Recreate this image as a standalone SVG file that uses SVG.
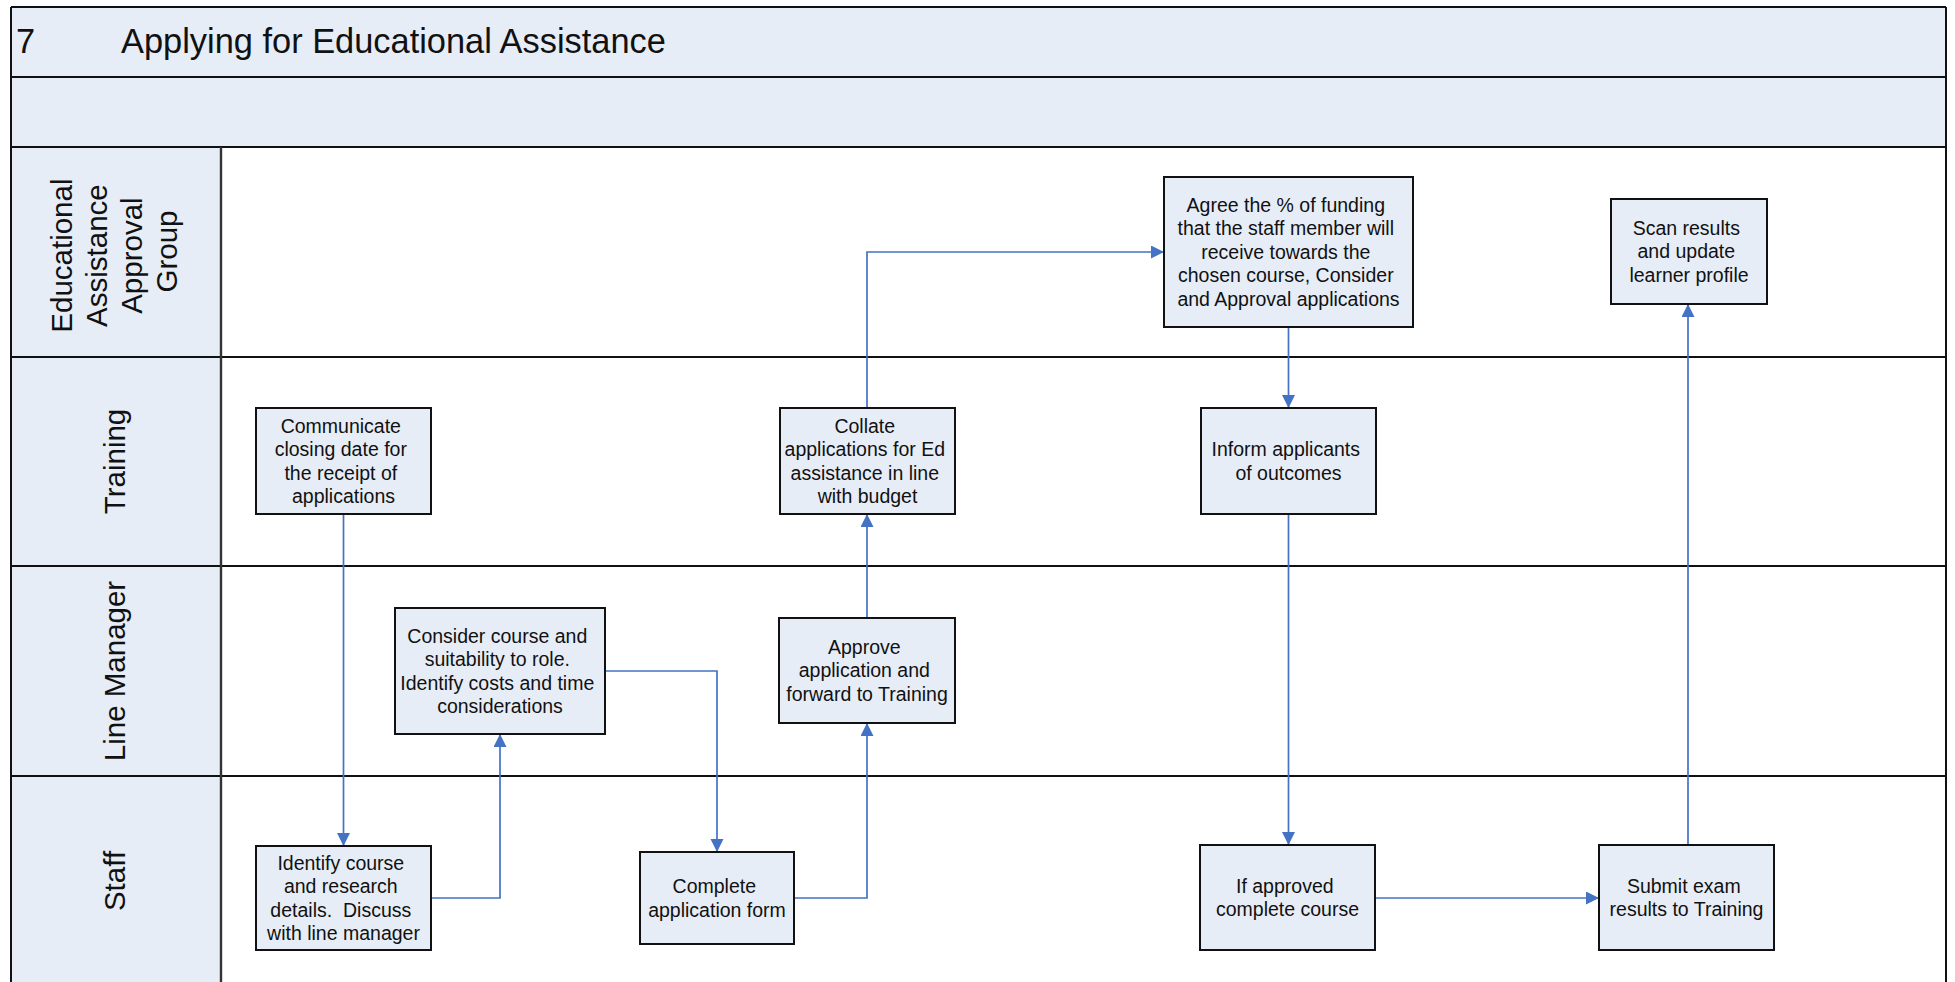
<svg xmlns="http://www.w3.org/2000/svg" width="1955" height="982" viewBox="0 0 1955 982">
  <style>
    .band { fill: #E7EDF7; stroke: none; }
    .rule { stroke: #111; stroke-width: 2; fill: none; }
    .box { fill: #E7EDF7; stroke: #111; stroke-width: 2; }
    .lbl { font-family: "Liberation Sans", Arial, sans-serif; font-size: 19.5px; fill: #111; text-anchor: middle; }
    .lane { font-family: "Liberation Sans", Arial, sans-serif; font-size: 29.5px; fill: #111; text-anchor: middle; }
    .title { font-family: "Liberation Sans", Arial, sans-serif; font-size: 34.4px; fill: #111; }
    .flow { stroke: #4472C4; stroke-width: 1.7; fill: none; marker-end: url(#arrow); }
  </style>
  <defs>
    <marker id="arrow" markerUnits="userSpaceOnUse" markerWidth="14" markerHeight="14" refX="13" refY="6.5" orient="auto">
      <path d="M0,0 L13,6.5 L0,13 z" fill="#4472C4"/>
    </marker>
  </defs>

  <rect width="1955" height="982" fill="#ffffff"/>

  <!-- header bands and lane label column -->
  <g id="frame">
    <rect class="band" x="11" y="7" width="1935" height="140"/>
    <rect class="band" x="11" y="147" width="210" height="845"/>
    <line class="rule" x1="11" y1="7" x2="1946" y2="7"/>
    <line class="rule" x1="11" y1="77" x2="1946" y2="77"/>
    <line class="rule" x1="11" y1="147" x2="1946" y2="147"/>
    <line class="rule" x1="11" y1="357" x2="1946" y2="357"/>
    <line class="rule" x1="11" y1="566" x2="1946" y2="566"/>
    <line class="rule" x1="11" y1="776" x2="1946" y2="776"/>
    <line class="rule" x1="11" y1="7" x2="11" y2="992"/>
    <line class="rule" x1="1946" y1="7" x2="1946" y2="992"/>
    <line x1="221" y1="147" x2="221" y2="992" stroke="#333" stroke-width="2.4"/>
    <text class="title" x="16" y="53">7</text>
    <text class="title" x="121" y="53">Applying for Educational Assistance</text>
  </g>

  <!-- swimlane labels -->
  <g id="lane-approval-group">
    <text class="lane" transform="translate(114.5,251.5) rotate(-90)">
      <tspan x="0" y="-42.3">Educational</tspan>
      <tspan x="0" y="-7.3">Assistance</tspan>
      <tspan x="0" y="27.7">Approval</tspan>
      <tspan x="0" y="62.7">Group</tspan>
    </text>
  </g>
  <g id="lane-training">
    <text class="lane" transform="translate(115,461.5) rotate(-90)" y="10.3">Training</text>
  </g>
  <g id="lane-line-manager">
    <text class="lane" transform="translate(115,671) rotate(-90)" y="10.3">Line Manager</text>
  </g>
  <g id="lane-staff">
    <text class="lane" transform="translate(115,881) rotate(-90)" y="10.3">Staff</text>
  </g>

  <!-- connectors -->
  <g id="connectors">
    <path class="flow" d="M343.5,514 L343.5,846"/>
    <path class="flow" d="M431,898 L500,898 L500,734"/>
    <path class="flow" d="M605,671 L717,671 L717,852"/>
    <path class="flow" d="M794,898 L867,898 L867,723"/>
    <path class="flow" d="M867,618 L867,514"/>
    <path class="flow" d="M867,408 L867,252 L1164,252"/>
    <path class="flow" d="M1288.5,327 L1288.5,408"/>
    <path class="flow" d="M1288.5,514 L1288.5,845"/>
    <path class="flow" d="M1375,898 L1599,898"/>
    <path class="flow" d="M1688,845 L1688,304"/>
  </g>

  <!-- process steps -->
  <g id="node-communicate">
    <rect class="box" x="256" y="408" width="175" height="106"/>
    <text class="lbl">
      <tspan x="343.5" y="432.7">Communicate</tspan>
      <tspan x="343.5" y="456.1">closing date for</tspan>
      <tspan x="343.5" y="479.5">the receipt of</tspan>
      <tspan x="343.5" y="502.9">applications</tspan>
    </text>
  </g>
  <g id="node-identify">
    <rect class="box" x="256" y="846" width="175" height="104"/>
    <text class="lbl">
      <tspan x="343.5" y="869.7">Identify course</tspan>
      <tspan x="343.5" y="893.1">and research</tspan>
      <tspan x="343.5" y="916.5">details.&#160; Discuss</tspan>
      <tspan x="343.5" y="939.9">with line manager</tspan>
    </text>
  </g>
  <g id="node-consider">
    <rect class="box" x="395" y="608" width="210" height="126"/>
    <text class="lbl">
      <tspan x="500" y="642.7">Consider course and</tspan>
      <tspan x="500" y="666.1">suitability to role.</tspan>
      <tspan x="500" y="689.5">Identify costs and time</tspan>
      <tspan x="500" y="712.9">considerations</tspan>
    </text>
  </g>
  <g id="node-complete">
    <rect class="box" x="640" y="852" width="154" height="92"/>
    <text class="lbl">
      <tspan x="717" y="893.1">Complete</tspan>
      <tspan x="717" y="916.5">application form</tspan>
    </text>
  </g>
  <g id="node-approve">
    <rect class="box" x="779" y="618" width="176" height="105"/>
    <text class="lbl">
      <tspan x="867" y="653.9">Approve</tspan>
      <tspan x="867" y="677.3">application and</tspan>
      <tspan x="867" y="700.7">forward to Training</tspan>
    </text>
  </g>
  <g id="node-collate">
    <rect class="box" x="780" y="408" width="175" height="106"/>
    <text class="lbl">
      <tspan x="867.5" y="432.7">Collate</tspan>
      <tspan x="867.5" y="456.1">applications for Ed</tspan>
      <tspan x="867.5" y="479.5">assistance in line</tspan>
      <tspan x="867.5" y="502.9">with budget</tspan>
    </text>
  </g>
  <g id="node-agree">
    <rect class="box" x="1164" y="177" width="249" height="150"/>
    <text class="lbl">
      <tspan x="1288.5" y="212">Agree the % of funding</tspan>
      <tspan x="1288.5" y="235.4">that the staff member will</tspan>
      <tspan x="1288.5" y="258.8">receive towards the</tspan>
      <tspan x="1288.5" y="282.2">chosen course, Consider</tspan>
      <tspan x="1288.5" y="305.6">and Approval applications</tspan>
    </text>
  </g>
  <g id="node-inform">
    <rect class="box" x="1201" y="408" width="175" height="106"/>
    <text class="lbl">
      <tspan x="1288.5" y="456.1">Inform applicants</tspan>
      <tspan x="1288.5" y="479.5">of outcomes</tspan>
    </text>
  </g>
  <g id="node-if-approved">
    <rect class="box" x="1200" y="845" width="175" height="105"/>
    <text class="lbl">
      <tspan x="1287.5" y="892.6">If approved</tspan>
      <tspan x="1287.5" y="916">complete course</tspan>
    </text>
  </g>
  <g id="node-submit">
    <rect class="box" x="1599" y="845" width="175" height="105"/>
    <text class="lbl">
      <tspan x="1686.5" y="892.6">Submit exam</tspan>
      <tspan x="1686.5" y="916">results to Training</tspan>
    </text>
  </g>
  <g id="node-scan">
    <rect class="box" x="1611" y="199" width="156" height="105"/>
    <text class="lbl">
      <tspan x="1689" y="234.9">Scan results</tspan>
      <tspan x="1689" y="258.3">and update</tspan>
      <tspan x="1689" y="281.7">learner profile</tspan>
    </text>
  </g>
</svg>
